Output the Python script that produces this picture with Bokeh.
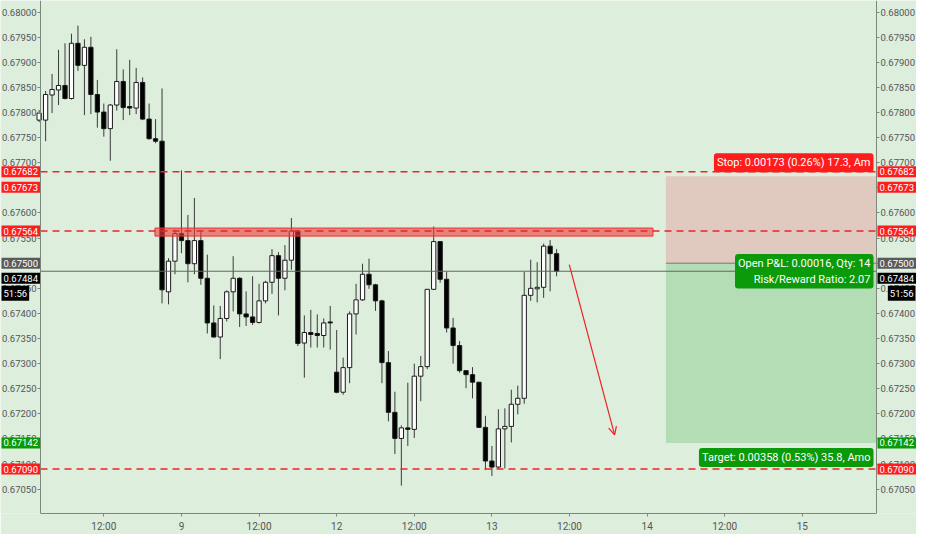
from bokeh.plotting import figure
from bokeh.models import (Range1d, LinearAxis, FixedTicker, NumeralTickFormatter,
                          Label, Arrow, OpenHead, ColumnDataSource)
from bokeh.embed import file_html
from bokeh.resources import INLINE

# ---------------- data (hourly candles, bar index) ----------------
bar_index = list(range(1, 82))
opens = [0.67785, 0.67785, 0.67835, 0.67845, 0.67854, 0.67828, 0.67938, 0.67894, 0.67930, 0.67836,
         0.67801, 0.67768, 0.67815, 0.67862, 0.67812, 0.67809, 0.67860, 0.67787, 0.67748, 0.67743,
         0.67443, 0.67504, 0.67559, 0.67545, 0.67499, 0.67545, 0.67470, 0.67381, 0.67353, 0.67390,
         0.67443, 0.67470, 0.67399, 0.67393, 0.67382, 0.67425, 0.67462, 0.67515, 0.67470, 0.67506,
         0.67564, 0.67341, 0.67362, 0.67360, 0.67356, 0.67383, 0.67283, 0.67243, 0.67292, 0.67399,
         0.67427, 0.67478, 0.67457, 0.67425, 0.67302, 0.67203, 0.67151, 0.67172, 0.67169, 0.67275,
         0.67294, 0.67448, 0.67543, 0.67468, 0.67371, 0.67336, 0.67286, 0.67278, 0.67263, 0.67173,
         0.67106, 0.67094, 0.67170, 0.67175, 0.67219, 0.67231, 0.67436, 0.67449, 0.67452, 0.67534,
         0.67519]
highs = [0.67805, 0.67843, 0.67877, 0.67925, 0.67938, 0.67957, 0.67973, 0.67946, 0.67951, 0.67865,
         0.67818, 0.67817, 0.67926, 0.67886, 0.67905, 0.67889, 0.67870, 0.67818, 0.67787, 0.67848,
         0.67510, 0.67567, 0.67685, 0.67596, 0.67630, 0.67564, 0.67517, 0.67416, 0.67415, 0.67446,
         0.67514, 0.67472, 0.67444, 0.67474, 0.67459, 0.67465, 0.67528, 0.67522, 0.67536, 0.67590,
         0.67565, 0.67396, 0.67407, 0.67398, 0.67390, 0.67415, 0.67367, 0.67312, 0.67404, 0.67459,
         0.67499, 0.67509, 0.67459, 0.67427, 0.67325, 0.67244, 0.67177, 0.67262, 0.67300, 0.67315,
         0.67448, 0.67573, 0.67543, 0.67483, 0.67391, 0.67345, 0.67286, 0.67293, 0.67263, 0.67196,
         0.67136, 0.67209, 0.67211, 0.67248, 0.67256, 0.67483, 0.67507, 0.67502, 0.67539, 0.67546,
         0.67528]
lows = [0.67781, 0.67743, 0.67799, 0.67815, 0.67826, 0.67826, 0.67883, 0.67795, 0.67797, 0.67770,
        0.67752, 0.67704, 0.67804, 0.67785, 0.67795, 0.67797, 0.67785, 0.67746, 0.67739, 0.67420,
        0.67418, 0.67478, 0.67520, 0.67462, 0.67478, 0.67457, 0.67360, 0.67352, 0.67309, 0.67384,
        0.67404, 0.67373, 0.67375, 0.67377, 0.67380, 0.67420, 0.67439, 0.67396, 0.67446, 0.67487,
        0.67335, 0.67272, 0.67332, 0.67332, 0.67332, 0.67328, 0.67241, 0.67238, 0.67261, 0.67358,
        0.67425, 0.67449, 0.67405, 0.67261, 0.67185, 0.67120, 0.67057, 0.67136, 0.67152, 0.67225,
        0.67289, 0.67447, 0.67461, 0.67362, 0.67300, 0.67282, 0.67251, 0.67231, 0.67172, 0.67088,
        0.67076, 0.67091, 0.67091, 0.67143, 0.67199, 0.67220, 0.67425, 0.67422, 0.67431, 0.67444,
        0.67474]
closes = [0.67799, 0.67836, 0.67846, 0.67854, 0.67828, 0.67938, 0.67894, 0.67930, 0.67836, 0.67801,
          0.67768, 0.67815, 0.67862, 0.67810, 0.67809, 0.67860, 0.67787, 0.67748, 0.67743, 0.67447,
          0.67504, 0.67559, 0.67545, 0.67499, 0.67545, 0.67470, 0.67381, 0.67353, 0.67390, 0.67443,
          0.67470, 0.67399, 0.67393, 0.67382, 0.67425, 0.67462, 0.67515, 0.67470, 0.67506, 0.67564,
          0.67340, 0.67362, 0.67358, 0.67356, 0.67381, 0.67381, 0.67243, 0.67292, 0.67399, 0.67427,
          0.67478, 0.67457, 0.67425, 0.67302, 0.67203, 0.67151, 0.67172, 0.67169, 0.67275, 0.67294,
          0.67448, 0.67543, 0.67468, 0.67371, 0.67336, 0.67286, 0.67278, 0.67263, 0.67173, 0.67106,
          0.67094, 0.67170, 0.67175, 0.67219, 0.67231, 0.67436, 0.67450, 0.67452, 0.67534, 0.67519,
          0.67484]

x_ticks = [11, 23, 35, 47, 59, 71, 83, 95, 107, 119]
x_tick_labels = ["12:00", "9", "12:00", "12", "12:00", "13", "12:00", "14", "12:00", "15"]
y_ticks = [0.67050, 0.67100, 0.67150, 0.67200, 0.67250, 0.67300, 0.67350, 0.67400, 0.67450, 0.67500,
           0.67550, 0.67600, 0.67650, 0.67700, 0.67750, 0.67800, 0.67850, 0.67900, 0.67950, 0.68000]

dashed_levels = [0.67682, 0.67564, 0.67090]
current_price = 0.67484
zone_start, zone_end, zone_top, zone_bottom = 18.9, 95.9, 0.67570, 0.67554
pos_start = 97.9
pos_stop, pos_entry, pos_target = 0.67673, 0.67500, 0.67142
arrow_x0, arrow_y0, arrow_x1, arrow_y1 = 82.96, 0.67497, 89.97, 0.67158

stop_text = "Stop: 0.00173 (0.26%) 17.3, Am"
pnl_text = "Open P&L: 0.00016, Qty: 14\nRisk/Reward Ratio: 2.07"
target_text = "Target: 0.00358 (0.53%) 35.8, Amo"

tag_prices = [0.67682, 0.67673, 0.67564, 0.67500, 0.67484, 0.67142, 0.67090]
tag_texts = ["0.67682", "0.67673", "0.67564", "0.67500", "0.67484", "0.67142", "0.67090"]
tag_colors = ["#ff1c1c", "#ff1c1c", "#ff1c1c", "#5a5a5a", "#000000", "#0a9a0a", "#ff1c1c"]
tag_offsets = [0, -11, 0, 0, -7, 0, 0]
timer_text = "51:56"

# ---------------- styling ----------------
BG = "#ddeedd"
RED = "#ff1c1c"
GREEN = "#0a9a0a"
AX = "#7d887d"
TXT = "#555555"
FONT = "Roboto"
SCALE_FS = "9.5px"

X0, X1 = 1.21, 130.46            # data span between the two price axes
Y0, Y1 = 0.670015, 0.680232
W, H = 916, 534
SIDE = 40                        # px reserved for price scales at each side
BB = 20
PPI = (W - 2 * SIDE) / (X1 - X0)
XL, XR = X0 - SIDE / PPI, X1 + SIDE / PPI

p = figure(width=W, height=H, output_backend="svg", toolbar_location=None,
           x_range=Range1d(XL, XR), y_range=Range1d(Y0, Y1),
           background_fill_color=BG, border_fill_color=BG,
           min_border_left=0, min_border_right=0, min_border_top=0, min_border_bottom=BB,
           outline_line_color=None)
p.grid.visible = False

def style_axis(ax):
    ax.axis_line_color = AX
    ax.major_tick_line_color = AX
    ax.minor_tick_line_color = None
    ax.major_tick_out = 3
    ax.major_tick_in = 0
    ax.major_label_text_color = TXT
    ax.major_label_text_font = FONT
    ax.major_label_text_font_size = SCALE_FS
    ax.major_label_standoff = 1

p.yaxis.ticker = FixedTicker(ticks=y_ticks)
p.yaxis.formatter = NumeralTickFormatter(format="0.00000")
p.yaxis.fixed_location = X0
style_axis(p.yaxis[0])
ry = LinearAxis(ticker=FixedTicker(ticks=y_ticks), formatter=NumeralTickFormatter(format="0.00000"),
                fixed_location=X1)
style_axis(ry)
p.add_layout(ry, "right")
p.xaxis.ticker = FixedTicker(ticks=x_ticks)
p.xaxis.major_label_overrides = {t: l for t, l in zip(x_ticks, x_tick_labels)}
p.xaxis.bounds = (X0, X1)
style_axis(p.xaxis[0])
p.xaxis.major_label_text_font_size = "10px"
p.xaxis.major_label_standoff = 4

# position tool boxes
p.quad(left=[pos_start], right=[X1], top=[pos_stop], bottom=[pos_entry],
       fill_color="#f23645", fill_alpha=0.2, line_color=None)
p.quad(left=[pos_start], right=[X1], top=[pos_entry], bottom=[pos_target],
       fill_color="#4caf50", fill_alpha=0.28, line_color=None)
p.segment(x0=[pos_start], y0=[pos_entry], x1=[X1], y1=[pos_entry], line_color="#777777", line_width=1)

# candles
src = ColumnDataSource(dict(
    x=bar_index, o=opens, h=highs, l=lows, c=closes,
    top=[max(a, b) for a, b in zip(opens, closes)],
    bot=[min(a, b) for a, b in zip(opens, closes)],
    col=["#ffffff" if c >= o else "#000000" for o, c in zip(opens, closes)],
))
p.segment(x0="x", y0="l", x1="x", y1="h", source=src, line_color="#3a3a3a", line_width=1)
p.vbar(x="x", top="top", bottom="bot", width=0.66, source=src,
       fill_color="col", line_color="#1a1a1a", line_width=1)

# current price line
p.segment(x0=[X0], y0=[current_price], x1=[X1], y1=[current_price], line_color="#5f665f", line_width=1)

# resistance zone
p.quad(left=[zone_start], right=[zone_end], top=[zone_top], bottom=[zone_bottom],
       fill_color="#f03c3c", fill_alpha=0.6, line_color="#f03030", line_width=1)

# dashed levels
p.segment(x0=[X0] * len(dashed_levels), y0=dashed_levels, x1=[X1] * len(dashed_levels), y1=dashed_levels,
          line_color="#e8262a", line_width=1.6, line_dash="7 5")

# arrow
p.add_layout(Arrow(end=OpenHead(size=8, line_color="#ee2020", line_width=1.2),
                   x_start=arrow_x0, y_start=arrow_y0, x_end=arrow_x1, y_end=arrow_y1,
                   line_color="#ee2020", line_width=1.2))

# position labels
def box_label(x, y, text, color, align, baseline, yoff=0, size="11px", pad=3, radius=3):
    p.add_layout(Label(x=x, y=y, text=text, text_color="white", text_font=FONT,
                       text_font_size=size, text_align=align, text_baseline=baseline,
                       background_fill_color=color, background_fill_alpha=1.0,
                       y_offset=yoff, padding=pad, border_radius=radius))

box_label(X1 - 3 / PPI, pos_stop, stop_text, RED, "right", "bottom", yoff=4)
box_label(X1 - 3 / PPI, current_price, pnl_text, GREEN, "right", "middle")
box_label(X1 - 3 / PPI, pos_target, target_text, GREEN, "right", "top", yoff=-5)

# price-scale tags on both sides
for pr, tx, co, off in zip(tag_prices, tag_texts, tag_colors, tag_offsets):
    box_label(XL + 1 / PPI, pr, tx, co, "left", "middle", yoff=off, size=SCALE_FS, pad=2, radius=0)
    box_label(X1 + 1 / PPI, pr, tx, co, "left", "middle", yoff=off, size=SCALE_FS, pad=2, radius=0)
box_label(XL + 1 / PPI, current_price, timer_text, "#000000", "left", "middle", yoff=-22,
          size=SCALE_FS, pad=2, radius=0)
box_label(XR - 1 / PPI, current_price, timer_text, "#000000", "right", "middle", yoff=-22,
          size=SCALE_FS, pad=2, radius=0)

open("out.html", "w").write(file_html(p, INLINE))
